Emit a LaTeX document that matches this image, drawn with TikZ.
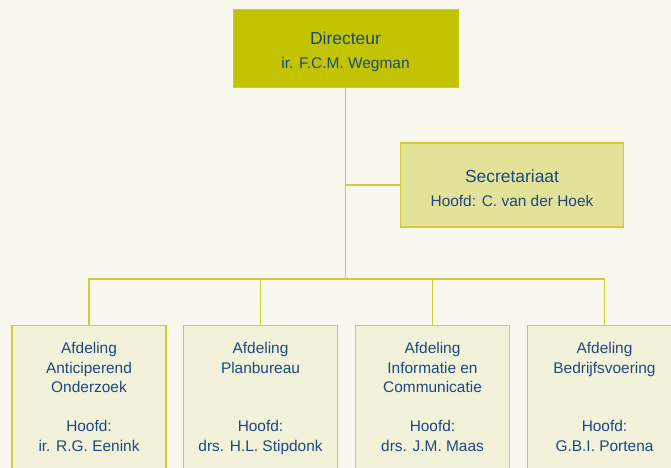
\documentclass[tikz,border=0pt]{standalone}
\usepackage{fontspec}
\setmainfont{Liberation Sans}
\usetikzlibrary{positioning}
\definecolor{bgcol}{HTML}{F8F8EF}
\definecolor{dircol}{HTML}{C2C400}
\definecolor{seccol}{HTML}{E3E299}
\definecolor{deptcol}{HTML}{F2F2DA}
\definecolor{linecol}{HTML}{CFCF35}
\definecolor{txtcol}{HTML}{1D4880}
\tikzset{
  dirbox/.style={fill=dircol, draw=dircol!85!white, line width=1bp, minimum width=225bp,
    minimum height=78bp, align=center, text=txtcol, font=\fontsize{15.5}{24}\selectfont},
  secbox/.style={fill=seccol, draw=linecol, line width=1.2bp, minimum width=223bp,
    minimum height=84bp, align=center, text=txtcol, font=\fontsize{15.5}{24}\selectfont},
  deptbox/.style={fill=deptcol, draw=linecol, line width=1.2bp, minimum width=154bp,
    minimum height=160bp, anchor=north, inner sep=0pt},
  depttext/.style={align=center, text=txtcol, anchor=north, inner sep=0pt,
    font=\fontsize{15.5}{19.5}\selectfont},
  conn/.style={draw=linecol, line width=1.5bp}
}
\newcommand{\kop}[1]{{\fontsize{17.5}{24}\selectfont\rule{0pt}{19bp}#1}}
\begin{document}
\begin{tikzpicture}[x=1bp, y=-1bp]
  \fill[bgcol] (0,0) rectangle (671,468);
  \useasboundingbox (0,0) rectangle (671,468);

  \node[dirbox] (dir) at (345.5,49) {\kop{Directeur}\\ir. F.C.M. Wegman};
  \node[secbox] (sec) at (512,185) {\kop{Secretariaat}\\Hoofd: C. van der Hoek};

  \coordinate (split) at (345.5,279);

  \begin{scope}
    \clip (0,0) rectangle (671,468);
    \node[deptbox] (afd1) at (89,325) {};
    \node[deptbox] (afd2) at (260.5,325) {};
    \node[deptbox] (afd3) at (432.5,325) {};
    \node[deptbox] (afd4) at (604.5,325) {};
  \end{scope}

  \node[depttext] (afd1t) at (89,342.5) {Afdeling\\Anticiperend\\Onderzoek\\[19.5bp]Hoofd:\\ir. R.G. Eenink};
  \node[depttext] (afd2t) at (260.5,342.5) {Afdeling\\Planbureau\\[39bp]Hoofd:\\drs. H.L. Stipdonk};
  \node[depttext] (afd3t) at (432.5,342.5) {Afdeling\\Informatie en\\Communicatie\\[19.5bp]Hoofd:\\drs. J.M. Maas};
  \node[depttext] (afd4t) at (604.5,342.5) {Afdeling\\Bedrijfsvoering\\[39bp]Hoofd:\\G.B.I. Portena};

  % lijnen
  \draw[conn] (dir.south) -- (split);
  \draw[conn] (sec.west) -- (sec.west -| split);
  \draw[conn] (afd1.north) |- (split) -| (afd4.north);
  \draw[conn] (afd2.north) -- (afd2.north |- split);
  \draw[conn] (afd3.north) -- (afd3.north |- split);
\end{tikzpicture}
\end{document}
